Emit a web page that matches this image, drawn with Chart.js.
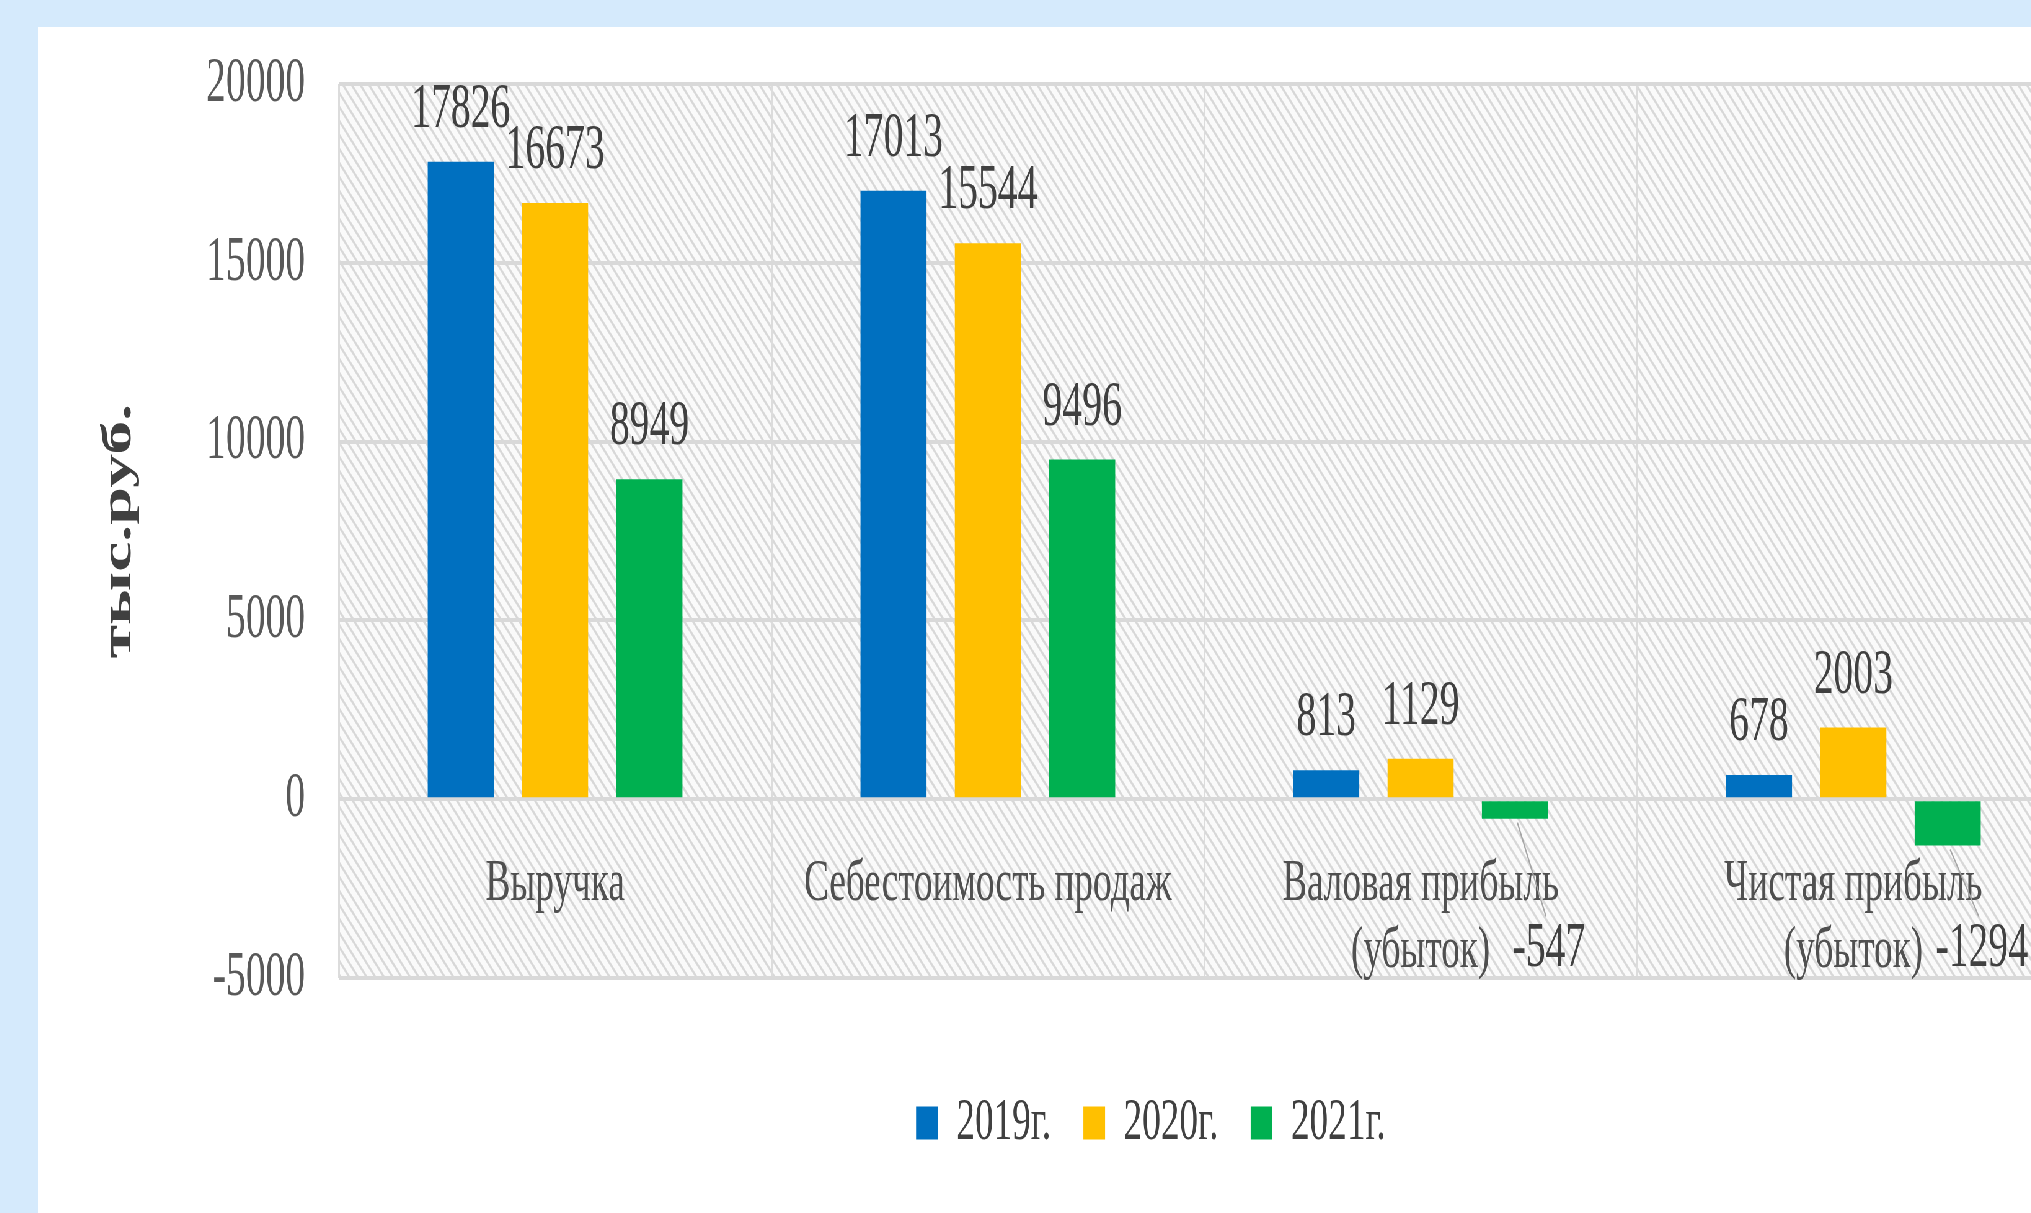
<!DOCTYPE html>
<html><head><meta charset="utf-8">
<script src="https://cdn.jsdelivr.net/npm/chart.js@4/dist/chart.umd.min.js"></script>
<style>
html,body{margin:0;padding:0;width:2031px;height:1213px;overflow:hidden;background:#D5EAFC;}
#wrap{position:absolute;left:38px;top:27px;width:3590px;height:1186px;background:#fff;transform:scaleX(0.62);transform-origin:0 0;}
canvas{display:block;}
</style></head><body>
<div id="wrap"><canvas id="c" width="3590" height="1186"></canvas></div>
<script>
const categories = [["Выручка"], ["Себестоимость продаж"], ["Валовая прибыль", "(убыток)"], ["Чистая прибыль", "(убыток)"]];
const seriesNames = ["2019г.", "2020г.", "2021г."];
const values2019 = [17826, 17013, 813, 678];
const values2020 = [16673, 15544, 1129, 2003];
const values2021 = [8949, 9496, -547, -1294];
const yTicks = [-5000, 0, 5000, 10000, 15000, 20000];
const yTitle = "тыс.руб.";

const colors = ["#0070C0", "#FFC000", "#00B050"];
Chart.defaults.font.family = '"Liberation Serif", "Times New Roman", serif';

function makePattern(ctx) {
  const t = document.createElement('canvas');
  t.width = 14; t.height = 14;
  const g = t.getContext('2d');
  g.fillStyle = '#FAFAFA'; g.fillRect(0, 0, 14, 14);
  g.strokeStyle = '#D8D8D8'; g.lineWidth = 3;
  g.beginPath();
  g.moveTo(-7, -7); g.lineTo(21, 21);
  g.moveTo(-7, 7); g.lineTo(7, 21);
  g.moveTo(7, -7); g.lineTo(21, 7);
  g.stroke();
  return ctx.createPattern(t, 'repeat');
}

const hatchPlugin = {
  id: 'hatch',
  beforeDraw(chart) {
    const {ctx, chartArea: a} = chart;
    ctx.save();
    ctx.fillStyle = makePattern(ctx);
    ctx.fillRect(a.left, a.top, a.right - a.left, a.bottom - a.top);
    ctx.restore();
  }
};

const labelPlugin = {
  id: 'vals',
  afterDatasetsDraw(chart) {
    const ctx = chart.ctx;
    const zero = chart.scales.y.getPixelForValue(0);
    ctx.save();
    ctx.font = '64px "Liberation Serif", serif';
    ctx.fillStyle = '#404040';
    ctx.textAlign = 'center';
    ctx.textBaseline = 'alphabetic';
    chart.data.datasets.forEach((ds, di) => {
      const meta = chart.getDatasetMeta(di);
      meta.data.forEach((bar, i) => {
        const v = ds.data[i];
        if (v >= 0) {
          ctx.fillText(String(v), bar.x, bar.y - 35);
        } else {
          const lx = bar.x + 55, ly = zero + 167;
          ctx.strokeStyle = '#A6A6A6'; ctx.lineWidth = 2;
          ctx.beginPath(); ctx.moveTo(bar.x + 4, bar.y + 4); ctx.lineTo(lx - 5, ly - 50); ctx.stroke();
          ctx.fillText(String(v), lx, ly);
        }
      });
    });
    ctx.restore();
  }
};

const ds = [values2019, values2020, values2021].map((d, i) => ({
  label: seriesNames[i],
  data: d,
  backgroundColor: colors[i],
  borderColor: colors[i],
  borderWidth: 0,
  barPercentage: 0.70,
  categoryPercentage: 0.654
}));

new Chart(document.getElementById('c'), {
  type: 'bar',
  data: {labels: categories, datasets: ds},
  plugins: [hatchPlugin, labelPlugin],
  options: {
    responsive: false,
    animation: false,
    devicePixelRatio: 1,
    layout: {padding: {top: 57, bottom: 50, left: 0, right: 0}},
    plugins: {
      tooltip: {enabled: false},
      legend: {
        position: 'bottom',
        title: {display: true, text: '', font: {size: 1, lineHeight: 1}, padding: {top: 62, bottom: 0}},
        labels: {font: {size: 60}, color: '#404040', boxWidth: 35, boxHeight: 33, padding: 52}
      }
    },
    scales: {
      x: {
        position: {y: 0},
        grid: {display: true, offset: true, color: '#DCDCDC', lineWidth: 3, drawTicks: false},
        border: {display: false},
        ticks: {font: {size: 60, lineHeight: 1.12}, color: '#505050', padding: 51, maxRotation: 0, minRotation: 0, autoSkip: false}
      },
      y: {
        min: -5000, max: 20000,
        afterBuildTicks: s => { s.ticks = yTicks.map(v => ({value: v})); },
        afterFit: s => { s.width = 485; },
        grid: {color: '#D9D9D9', lineWidth: 4, drawTicks: true, tickLength: 54, tickColor: 'rgba(0,0,0,0)'},
        border: {display: false},
        ticks: {font: {size: 64}, color: '#595959', padding: 0, callback: v => String(v)},
        title: {display: true, text: yTitle, color: '#404040', font: {size: 68, weight: 'bold', lineHeight: 1.2}, padding: {top: 91, bottom: 0}}
      },
      y2: {
        position: 'right',
        display: true,
        grid: {display: false},
        border: {display: false},
        ticks: {display: false},
        afterFit: s => { s.width = 313; }
      }
    }
  }
});
</script>
</body></html>
